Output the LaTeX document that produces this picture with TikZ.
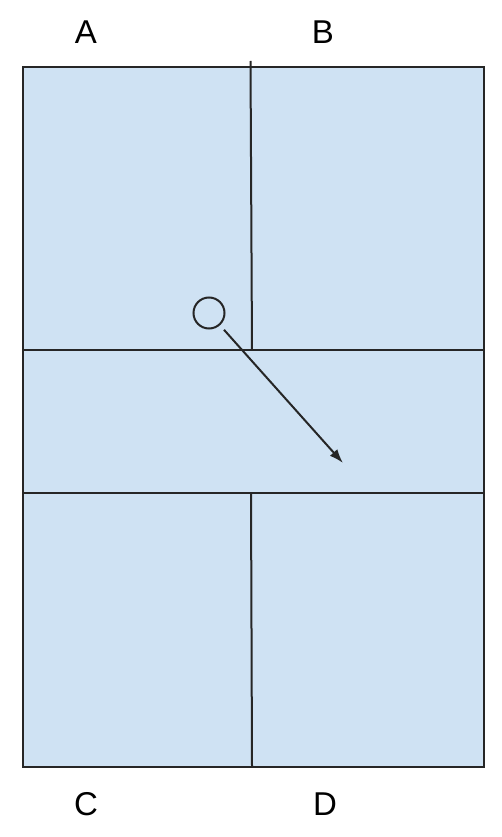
\documentclass[tikz,border=0pt]{standalone}
\usepackage{fontspec}
\setmainfont{Liberation Sans}
\usetikzlibrary{arrows.meta}
\definecolor{fieldblue}{HTML}{CFE2F3}
\tikzset{
  lbl/.style={font=\fontsize{33}{36}\selectfont, inner sep=0pt, anchor=center},
  ln/.style={line width=2pt, draw=black!85},
}
\begin{document}
\begin{tikzpicture}[x=1pt,y=-1pt]
\useasboundingbox (0,0) rectangle (501,837);
\node[ln, fill=fieldblue, draw, minimum width=461pt, minimum height=700pt, inner sep=0pt, anchor=north west] (field) at (22,66) {};
\coordinate (t1) at (250.5,61);
\coordinate (t2) at (252,350);
\coordinate (b1) at (251,493);
\coordinate (b2) at (252,766);
\coordinate (h1l) at (22,350);
\coordinate (h1r) at (483,350);
\coordinate (h2l) at (22,493);
\coordinate (h2r) at (483,493);
\draw[ln] (t1) -- (t2);
\draw[ln] (b1) -- (b2);
\draw[ln] (h1l) -- (h1r);
\draw[ln] (h2l) -- (h2r);
\node[ln, draw, circle, minimum size=31pt, inner sep=0pt] (ball) at (209,313) {};
\coordinate (tip) at (343,463);
\draw[ln, shorten <=6pt, -{Latex[length=14pt,width=10pt]}] (ball) -- (tip);
\node[lbl] (A) at (86,32) {A};
\node[lbl] (B) at (323,32) {B};
\node[lbl] (C) at (86,804) {C};
\node[lbl] (D) at (325,804) {D};
\end{tikzpicture}
\end{document}
